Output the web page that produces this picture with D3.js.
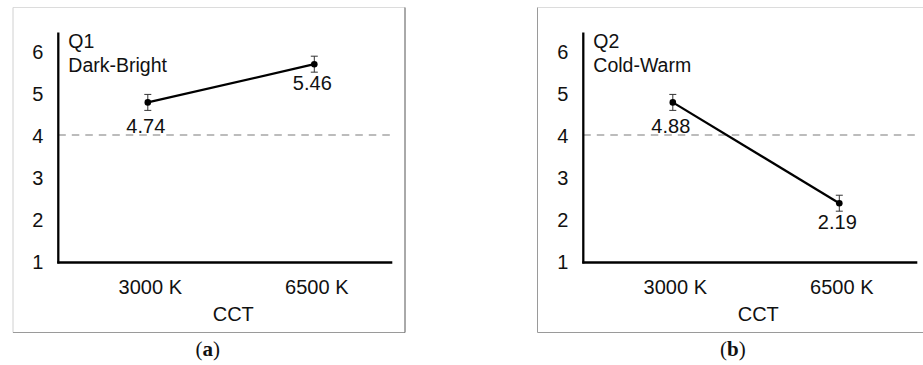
<!DOCTYPE html>
<html>
<head>
<meta charset="utf-8">
<script src="https://cdn.jsdelivr.net/npm/d3@7"></script>
<style>
  body { margin: 0; background: #fff; }
  text { font-family: "Liberation Sans", Arial, sans-serif; fill: #111; }
  .caption { font-family: "Liberation Serif", "Times New Roman", serif; font-size: 21px; }
</style>
</head>
<body>
<div class="chart"></div>
<script>
const svgWidth = 923;
const svgHeight = 365;

// data
const categories = ['3000 K', '6500 K'];
const yTicks = [1, 2, 3, 4, 5, 6];
const neutral = 4;
const q1Means = [4.80, 5.71];
const q1Errors = [0.19, 0.19];
const q1Labels = ['4.74', '5.46'];
const q2Means = [4.80, 2.40];
const q2Errors = [0.19, 0.19];
const q2Labels = ['4.88', '2.19'];

const svg = d3.select('.chart')
  .append('svg')
  .attr('width', svgWidth)
  .attr('height', svgHeight);

//frames around the two panels
function frame(x0, x1, rightColor, leftColor) {
  const y0 = 7.5, y1 = 332.5;
  svg.append('line').attr('x1', x0).attr('x2', x1).attr('y1', y0).attr('y2', y0)
    .attr('stroke', '#dcdcdc').attr('stroke-width', 1.2);
  svg.append('line').attr('x1', x0).attr('x2', x0).attr('y1', y0).attr('y2', y1)
    .attr('stroke', leftColor).attr('stroke-width', 1);
  svg.append('line').attr('x1', x0).attr('x2', x1).attr('y1', y1).attr('y2', y1)
    .attr('stroke', '#9a9a9a').attr('stroke-width', 1);
  if (rightColor) {
    svg.append('line').attr('x1', x1).attr('x2', x1).attr('y1', y0).attr('y2', y1)
      .attr('stroke', rightColor).attr('stroke-width', 1);
  }
}
frame(13, 405, '#555', '#d0d0d0');
frame(537.5, 930, null, '#9a9a9a');

const yScale = d3.scaleLinear()
  .domain([1, 6])
  .range([262, 52]);

function drawPanel(ox, means, errors, labels, title1, title2, caption) {
  const g = svg.append('g').attr('transform', `translate(${ox}, 0)`);

  const xScale = d3.scalePoint()
    .domain(categories)
    .range([89.5, 256]);

  //reference line at neutral
  g.append('line')
    .attr('x1', 0).attr('x2', 335)
    .attr('y1', yScale(neutral) - 1).attr('y2', yScale(neutral) - 1)
    .attr('stroke', '#a6a6a6')
    .attr('stroke-width', 1.3)
    .attr('stroke-dasharray', '7.5,6');

  //axes
  const leftAxis = d3.axisLeft(yScale).tickValues(yTicks).tickFormat(d3.format('d')).tickSize(0).tickPadding(15);
  const yAxis = g.append('g').call(leftAxis);
  yAxis.select('.domain').remove();
  yAxis.selectAll('text').style('font-size', '20px').style('font-family', '"Liberation Sans", Arial, sans-serif').attr('fill', '#111');

  g.append('line')
    .attr('x1', 0).attr('x2', 0)
    .attr('y1', 32.5).attr('y2', 263.5)
    .attr('stroke', '#000').attr('stroke-width', 2.3);
  g.append('line')
    .attr('x1', -1).attr('x2', 334)
    .attr('y1', 262.5).attr('y2', 262.5)
    .attr('stroke', '#000').attr('stroke-width', 2.3);

  const bottomAxis = d3.axisBottom(xScale).tickSize(0).tickPadding(0);
  const xAxis = g.append('g').attr('transform', 'translate(2, 293.5)').call(bottomAxis);
  xAxis.select('.domain').remove();
  xAxis.selectAll('text').attr('dy', 0).style('font-size', '20px').style('font-family', '"Liberation Sans", Arial, sans-serif').attr('fill', '#111');

  g.append('text')
    .attr('x', 175).attr('y', 320.5)
    .attr('text-anchor', 'middle')
    .style('font-size', '20px')
    .text('CCT');

  //titles
  g.append('text').attr('x', 10).attr('y', 47.5).style('font-size', '19.5px').text(title1);
  g.append('text').attr('x', 10).attr('y', 71.5).style('font-size', '19.5px').text(title2);

  const pts = categories.map((c, i) => ({ c: c, v: means[i], e: errors[i], label: labels[i] }));

  //line between means
  const line = d3.line().x(d => xScale(d.c)).y(d => yScale(d.v));
  g.append('path')
    .datum(pts)
    .attr('d', line)
    .attr('fill', 'none')
    .attr('stroke', '#000')
    .attr('stroke-width', 2.2);

  //error bars
  const eb = g.selectAll('.eb').data(pts).enter().append('g');
  eb.append('line')
    .attr('x1', d => xScale(d.c)).attr('x2', d => xScale(d.c))
    .attr('y1', d => yScale(d.v + d.e)).attr('y2', d => yScale(d.v - d.e))
    .attr('stroke', '#333').attr('stroke-width', 1);
  [1, -1].forEach(s => {
    eb.append('line')
      .attr('x1', d => xScale(d.c) - 3.5).attr('x2', d => xScale(d.c) + 3.5)
      .attr('y1', d => yScale(d.v + s * d.e)).attr('y2', d => yScale(d.v + s * d.e))
      .attr('stroke', '#333').attr('stroke-width', 1);
  });

  g.selectAll('circle')
    .data(pts)
    .enter()
    .append('circle')
    .attr('cx', d => xScale(d.c))
    .attr('cy', d => yScale(d.v))
    .attr('r', 3.3)
    .attr('fill', '#000');

  g.selectAll('.vlabel')
    .data(pts)
    .enter()
    .append('text')
    .attr('x', d => xScale(d.c) - 2)
    .attr('y', (d, i) => yScale(d.v) + (i === 0 ? 30.5 : 25.5))
    .attr('text-anchor', 'middle')
    .style('font-size', '20px')
    .text(d => d.label);

  //caption
  const cap = svg.append('text')
    .attr('class', 'caption')
    .attr('x', ox + 149.5)
    .attr('y', 356)
    .attr('text-anchor', 'middle');
  cap.append('tspan').text('(');
  cap.append('tspan').style('font-weight', 'bold').text(caption);
  cap.append('tspan').text(')');
}

drawPanel(58.3, q1Means, q1Errors, q1Labels, 'Q1', 'Dark-Bright', 'a');
drawPanel(583.3, q2Means, q2Errors, q2Labels, 'Q2', 'Cold-Warm', 'b');
</script>
</body>
</html>
